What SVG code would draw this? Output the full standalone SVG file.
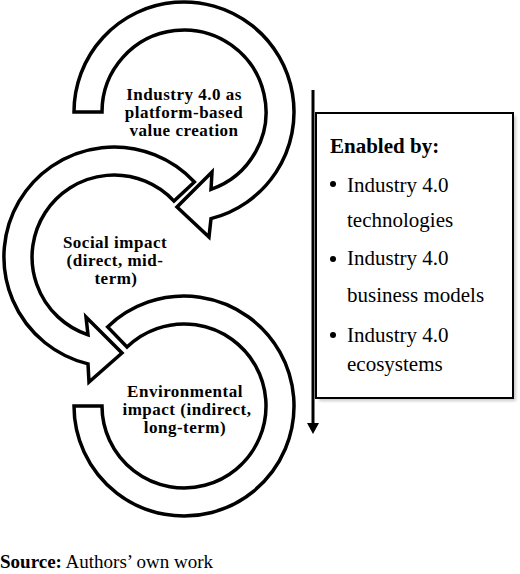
<svg xmlns="http://www.w3.org/2000/svg" width="520" height="574" viewBox="0 0 520 574">
<defs>
<style>
.band{fill:#fff;stroke:#000;stroke-width:3.5;stroke-linejoin:miter}
.lbl{font-family:"Liberation Serif","Times New Roman",serif;font-weight:bold;font-size:17px;letter-spacing:0.5px;fill:#000;text-anchor:middle}
.box{font-family:"Liberation Serif","Times New Roman",serif;font-size:21px;fill:#000}
.b{font-weight:bold}
</style>
<filter id="sh" x="-10%" y="-10%" width="130%" height="130%">
<feGaussianBlur stdDeviation="1.5"/>
</filter>
</defs>
<rect width="520" height="574" fill="#fff"/>

<g id="node-environmental">
<path class="band" d="M107.6,326.9 A110,110 0 1 1 74,406 L102,406 A82,82 0 1 0 127,347 Z"/>
<text class="lbl" x="185" y="397">Environmental</text>
<text class="lbl" x="187" y="415">impact (indirect,</text>
<text class="lbl" x="185" y="433">long-term)</text>
</g>

<g id="node-social">
<path class="band" d="M194.4,182 A110,110 0 1 0 88,363.9 L89,382 L122,353 L86,317 L88,334.8 A82,82 0 1 1 174,201.1 Z"/>
<text class="lbl" x="115" y="248">Social impact</text>
<text class="lbl" x="115" y="266">(direct, mid-</text>
<text class="lbl" x="116" y="284">term)</text>
</g>

<g id="node-industry">
<path class="band" d="M74,112 A110,110 0 1 1 211,218.6 L209,237 L177,207 L212,172 L211,189.4 A82,82 0 1 0 102,112 Z"/>
<text class="lbl" x="184" y="100">Industry 4.0 as</text>
<text class="lbl" x="184" y="118">platform-based</text>
<text class="lbl" x="184" y="136">value creation</text>
</g>

<g id="connectors">
<line x1="313" y1="90" x2="313" y2="425" stroke="#000" stroke-width="3"/>
<polygon points="307,423 319,423 313,434" fill="#000"/>
</g>

<g id="node-enablers">
<rect x="319" y="116" width="197" height="285" fill="#999" opacity="0.5" filter="url(#sh)"/>
<rect x="316" y="113" width="197" height="285" fill="#fff" stroke="#000" stroke-width="2"/>
<text class="box b" x="330" y="153">Enabled by:</text>
<circle cx="333" cy="184" r="3"/>
<text class="box" x="347" y="192">Industry 4.0</text>
<text class="box" x="347" y="227">technologies</text>
<circle cx="333" cy="259" r="3"/>
<text class="box" x="347" y="265">Industry 4.0</text>
<text class="box" x="347" y="302">business models</text>
<circle cx="333" cy="335" r="3"/>
<text class="box" x="347" y="342">Industry 4.0</text>
<text class="box" x="347" y="371">ecosystems</text>
</g>

<text x="0" y="568" font-family="Liberation Serif, Times New Roman, serif" font-size="19" fill="#000"><tspan font-weight="bold">Source:</tspan> Authors’ own work</text>
</svg>
